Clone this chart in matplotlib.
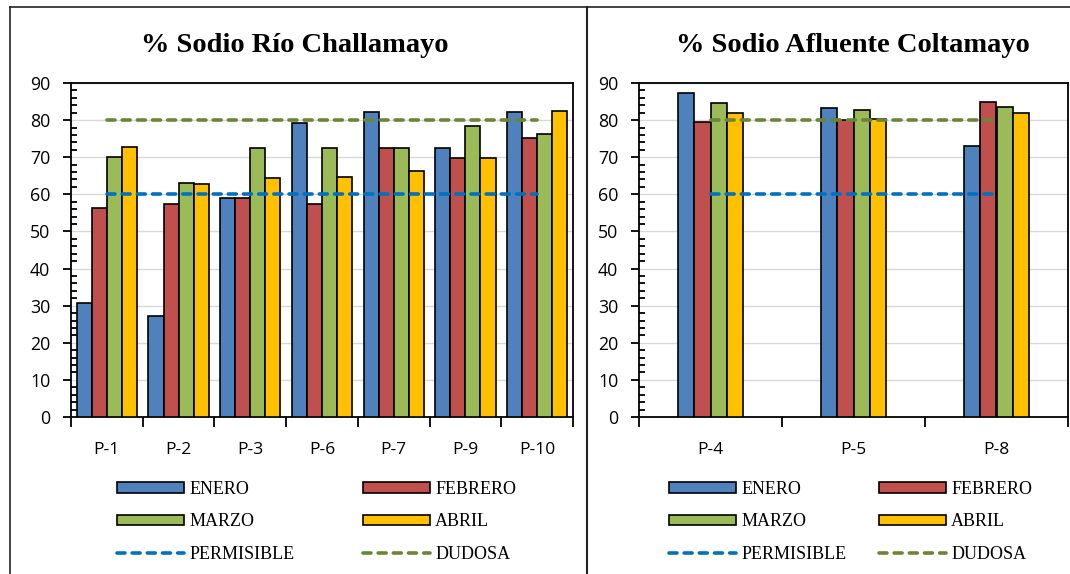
import matplotlib
matplotlib.use("Agg")
import matplotlib.pyplot as plt
import numpy as np
from matplotlib.lines import Line2D
from matplotlib.patches import Patch
from matplotlib.ticker import MultipleLocator, FixedLocator, FixedFormatter

# ---------------- data ----------------
cats_rio = ["P-1", "P-2", "P-3", "P-6", "P-7", "P-9", "P-10"]
enero_rio = [30.8, 27.1, 58.9, 79.1, 82.2, 72.6, 82.2]
febrero_rio = [56.3, 57.3, 59.0, 57.4, 72.5, 69.8, 75.1]
marzo_rio = [70.0, 63.1, 72.6, 72.5, 72.5, 78.4, 76.3]
abril_rio = [72.7, 62.8, 64.3, 64.7, 66.2, 69.9, 82.4]

cats_afl = ["P-4", "P-5", "P-8"]
enero_afl = [87.4, 83.2, 73.0]
febrero_afl = [79.5, 80.1, 84.8]
marzo_afl = [84.5, 82.7, 83.4]
abril_afl = [81.9, 80.4, 81.9]

permisible = 60
dudosa = 80
months = ["ENERO", "FEBRERO", "MARZO", "ABRIL"]
line_names = ["PERMISIBLE", "DUDOSA"]
titles = ["% Sodio Río Challamayo", "% Sodio Afluente Coltamayo"]
yticks = [0, 10, 20, 30, 40, 50, 60, 70, 80, 90]

# ---------------- style ----------------
bar_colors = ["#4F81BD", "#C0504D", "#9BBB59", "#FFC000"]
perm_color = "#0070C0"
dud_color = "#6B8536"
tick_font = "Open Sans"
serif = "Liberation Serif"

W, H = 1070, 574
fig = plt.figure(figsize=(W / 100, H / 100), dpi=100)


def px_rect(l, t, r, b):
    return [l / W, 1 - b / H, (r - l) / W, (b - t) / H]


dash = (0, (2.2, 2.0))
line_w = 2.6


def draw_panel(ax, cats, series, bw):
    n = len(cats)
    x = np.arange(n)
    for i, (vals, col) in enumerate(zip(series, bar_colors)):
        ax.bar(x + (i - 1.5) * bw, vals, width=bw, color=col,
               edgecolor="black", linewidth=1.2, zorder=3)
    ax.plot([0, n - 1], [permisible, permisible], color=perm_color, lw=line_w,
            linestyle=dash, dash_capstyle="round", zorder=4)
    ax.plot([0, n - 1], [dudosa, dudosa], color=dud_color, lw=line_w,
            linestyle=dash, dash_capstyle="round", zorder=4)
    ax.set_xlim(-0.5, n - 0.5)
    ax.set_ylim(0, 90)
    ax.set_yticks(yticks)
    ax.yaxis.set_minor_locator(MultipleLocator(2))
    ax.yaxis.grid(True, which="major", color="#D9D9D9", lw=1.0, zorder=0)
    ax.set_axisbelow(True)
    ax.xaxis.set_major_locator(FixedLocator(np.arange(n + 1) - 0.5))
    ax.xaxis.set_minor_locator(FixedLocator(x))
    ax.xaxis.set_minor_formatter(FixedFormatter(cats))
    ax.tick_params(axis="x", which="major", direction="out", length=7,
                   width=1.3, labelbottom=False)
    ax.tick_params(axis="x", which="minor", length=0, pad=18,
                   labelsize=12.5)
    ax.tick_params(axis="y", which="major", direction="out", length=6,
                   width=1.3, pad=9, labelsize=12.8)
    ax.tick_params(axis="y", which="minor", direction="in", length=4,
                   width=1.3)
    for lab in ax.get_xticklabels(minor=True) + ax.get_yticklabels():
        lab.set_fontfamily(tick_font)
    for s in ax.spines.values():
        s.set_linewidth(1.3)
        s.set_color("black")


ax1 = fig.add_axes(px_rect(71, 83, 573, 417))
ax2 = fig.add_axes(px_rect(639, 83, 1068, 417))
draw_panel(ax1, cats_rio, [enero_rio, febrero_rio, marzo_rio, abril_rio], 0.21)
draw_panel(ax2, cats_afl, [enero_afl, febrero_afl, marzo_afl, abril_afl], 0.112)

# titles
fig.text(295 / W, 1 - 46 / H, titles[0], ha="center", va="center",
         family=serif, weight="bold", fontsize=20.5)
fig.text(853 / W, 1 - 46 / H, titles[1], ha="center", va="center",
         family=serif, weight="bold", fontsize=20.5)

# frame lines
fig.add_artist(Line2D([10 / W, 1], [1 - 7 / H, 1 - 7 / H], color="#222222", lw=1.2))
fig.add_artist(Line2D([10 / W, 10 / W], [0, 1 - 7 / H], color="#222222", lw=1.2))
fig.add_artist(Line2D([587 / W, 587 / W], [0, 1 - 7 / H], color="#222222", lw=1.5))


# legends
def make_handles(idx):
    h = []
    for i in idx:
        if i < 4:
            h.append(Patch(facecolor=bar_colors[i], edgecolor="black",
                           linewidth=1.2, label=months[i]))
        else:
            c = perm_color if i == 4 else dud_color
            h.append(Line2D([], [], color=c, lw=line_w, linestyle=dash,
                            dash_capstyle="round", label=line_names[i - 4]))
    return h


leg_fs = 13
fs_px = leg_fs * 100 / 72
for x_px, idx in [(117, [0, 2, 4]), (363, [1, 3, 5]),
                  (669, [0, 2, 4]), (879, [1, 3, 5])]:
    leg = fig.legend(handles=make_handles(idx), loc="upper left",
                     bbox_to_anchor=(x_px / W, 1 - 481 / H),
                     bbox_transform=fig.transFigure, frameon=False,
                     borderpad=0, borderaxespad=0,
                     handlelength=67 / fs_px, handleheight=10 / fs_px,
                     handletextpad=0.28, labelspacing=0.85,
                     prop={"family": serif, "size": leg_fs})

fig.savefig("out.png", dpi=100)
